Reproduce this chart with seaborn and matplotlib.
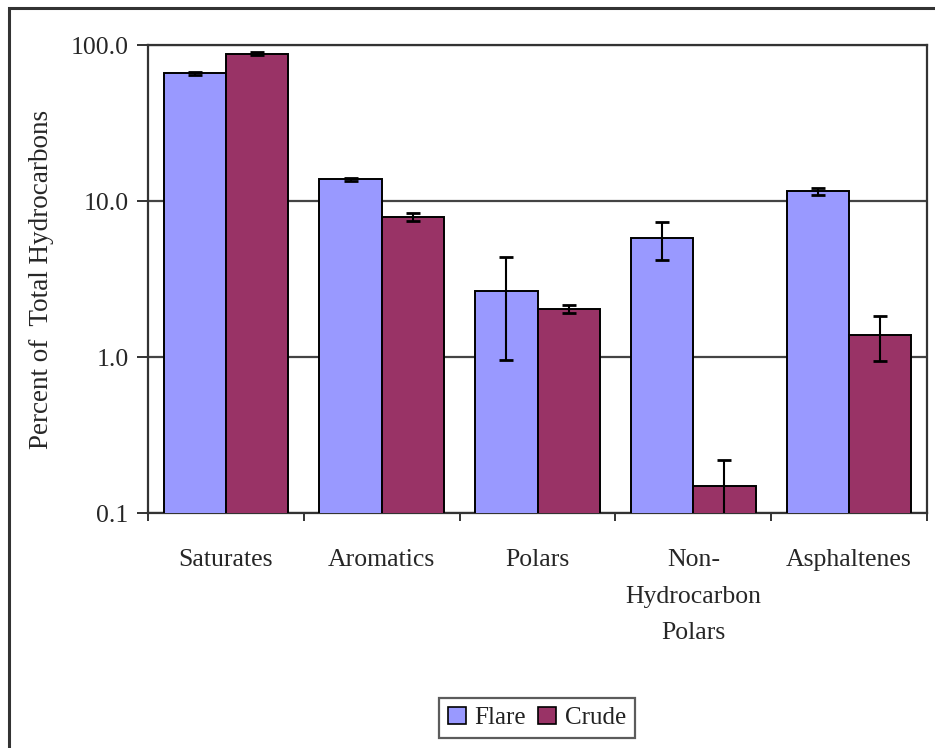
import matplotlib
matplotlib.use("Agg")
import matplotlib.pyplot as plt
from matplotlib.patches import Rectangle
from matplotlib.ticker import FixedLocator, FixedFormatter, NullFormatter
import numpy as np
import pandas as pd
import seaborn as sns

# Hydrocarbon fractions (percent of total), mean and error half-width
categories = ["Saturates", "Aromatics", "Polars", "Non-\nHydrocarbon\nPolars", "Asphaltenes"]
series = ["Flare", "Crude"]
flare_values = [66.0, 13.8, 2.65, 5.75, 11.6]
flare_errors = [1.5, 0.3, 1.7, 1.55, 0.6]
crude_values = [88.0, 7.9, 2.03, 0.15, 1.38]
crude_errors = [1.8, 0.5, 0.12, 0.07, 0.44]
y_ticks = [0.1, 1.0, 10.0, 100.0]
y_tick_labels = ["0.1", "1.0", "10.0", "100.0"]

colors = {"Flare": "#9999FF", "Crude": "#993366"}

df = pd.DataFrame({
    "category": categories * 2,
    "series": ["Flare"] * len(categories) + ["Crude"] * len(categories),
    "value": flare_values + crude_values,
})
errors = {"Flare": flare_errors, "Crude": crude_errors}
values = {"Flare": flare_values, "Crude": crude_values}

sns.set_theme(style="white")
plt.rcParams["font.family"] = ["Liberation Serif", "DejaVu Serif"]
plt.rcParams["text.color"] = "#222222"

fig = plt.figure(figsize=(9.35, 7.48), dpi=100)
ax = fig.add_axes([148 / 935, 1 - 513 / 748, (927 - 148) / 935, (513 - 45) / 748])
ax.set_yscale("log")

sns.barplot(data=df, x="category", y="value", hue="series", order=categories,
            hue_order=series, palette=colors, errorbar=None, width=0.8,
            edgecolor="black", linewidth=1.4, saturation=1, ax=ax, legend=True, zorder=3)

# error bars centred on each bar
for container, name in zip(ax.containers, series):
    xs = [p.get_x() + p.get_width() / 2 for p in container.patches]
    ax.errorbar(xs, values[name], yerr=errors[name], fmt="none", ecolor="black",
                elinewidth=1.5, capsize=5, capthick=2, zorder=4)

ax.set_ylim(0.1, 100)
ax.set_xlim(-0.5, len(categories) - 0.5)
ax.yaxis.set_major_locator(FixedLocator(y_ticks))
ax.yaxis.set_major_formatter(FixedFormatter(y_tick_labels))
ax.yaxis.set_minor_locator(FixedLocator([]))
ax.yaxis.set_minor_formatter(NullFormatter())
ax.grid(axis="y", which="major", color="#444444", linewidth=1.6, zorder=0)
ax.set_axisbelow(True)

for side in ["left", "bottom", "right", "top"]:
    ax.spines[side].set_visible(True)
    ax.spines[side].set_color("#333333")
    ax.spines[side].set_linewidth(1.6)

ax.tick_params(axis="y", which="major", direction="out", length=8, width=1.4,
               color="#333333", labelsize=18.5, pad=6, left=True)
ax.xaxis.set_minor_locator(FixedLocator(np.arange(-0.5, len(categories), 1.0)))
ax.tick_params(axis="x", which="minor", direction="out", length=6, width=1.4,
               color="#333333", bottom=True)
ax.tick_params(axis="x", which="major", length=0, labelsize=18.5, pad=26)
for lbl in ax.get_xticklabels():
    lbl.set_linespacing(1.85)
    lbl.set_verticalalignment("top")

ax.set_xlabel("")
ax.set_ylabel("Percent of  Total Hydrocarbons", fontsize=19.5, labelpad=12)

leg = ax.get_legend()
leg.remove()
handles = [Rectangle((0, 0), 1, 1, facecolor=colors[s], edgecolor="black", linewidth=1.2)
           for s in series]
fig.legend(handles, series, loc="center", bbox_to_anchor=(537 / 935, 1 - 718 / 748),
           ncol=2, frameon=True, fancybox=False, edgecolor="#333333", fontsize=18,
           handlelength=0.7, handleheight=0.7, handletextpad=0.35, columnspacing=0.5,
           borderpad=0.35, borderaxespad=0)
fig.legends[0].get_frame().set_linewidth(1.6)

# outer chart frame
fig.patches.append(Rectangle((9 / 935, -0.1), 1.2, 1 - 8 / 748 + 0.1,
                             transform=fig.transFigure, fill=False,
                             edgecolor="#333333", linewidth=2.2))

fig.savefig("out.png", dpi=100, facecolor="white")
